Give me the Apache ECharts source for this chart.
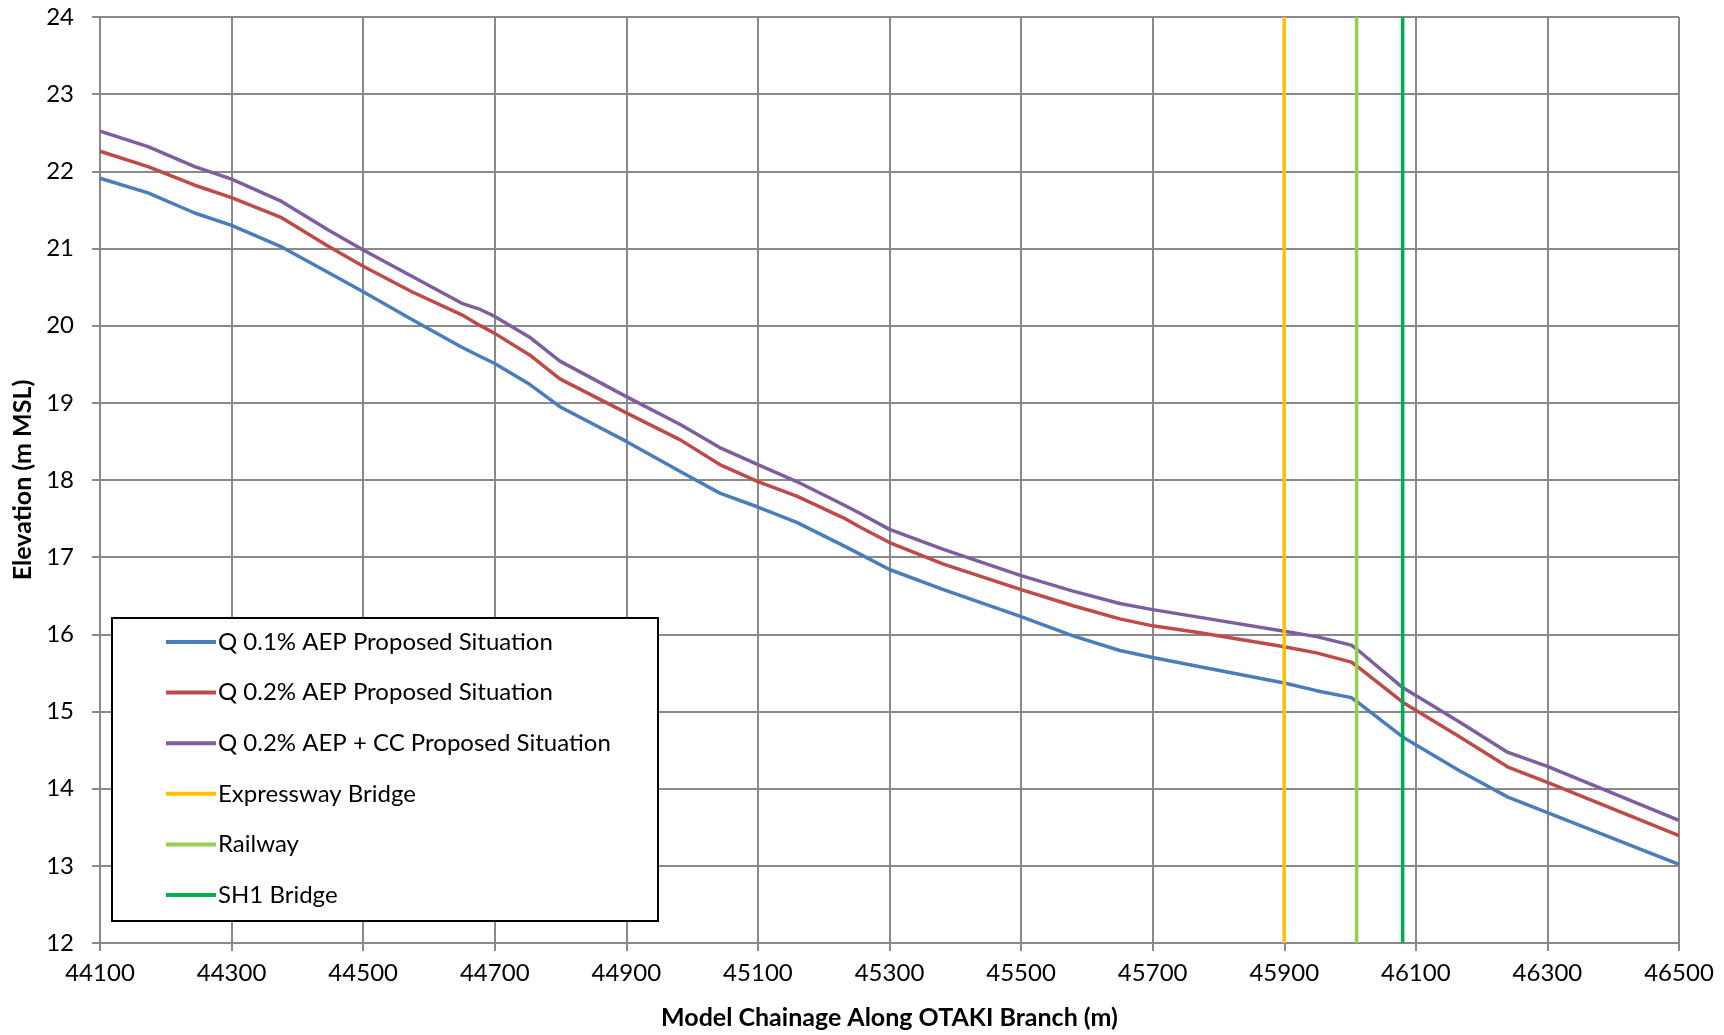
<!DOCTYPE html>
<html>
<head>
<meta charset="utf-8">
<script src="https://cdn.jsdelivr.net/npm/echarts@6/dist/echarts.min.js"></script>
<style>
  html, body { margin: 0; padding: 0; background: #fff; }
  #chart { width: 1724px; height: 1035px; }
</style>
</head>
<body>
<div id="chart"></div>
<script>
// ---- data ----
const chainage = [44100, 44173, 44244, 44300, 44376, 44447, 44500, 44574, 44650, 44678, 44700, 44753, 44799, 44900, 44982, 45042, 45100, 45159, 45230, 45255, 45300, 45382, 45500, 45579, 45650, 45700, 45772, 45900, 45949, 46002, 46010, 46080, 46167, 46240, 46300, 46500];
const q01 = [21.91, 21.72, 21.46, 21.30, 21.02, 20.69, 20.44, 20.08, 19.72, 19.60, 19.51, 19.24, 18.95, 18.50, 18.11, 17.83, 17.65, 17.45, 17.15, 17.04, 16.84, 16.58, 16.23, 15.98, 15.79, 15.70, 15.58, 15.37, 15.27, 15.18, 15.13, 14.67, 14.23, 13.89, 13.69, 13.02];
const q02 = [22.26, 22.06, 21.82, 21.66, 21.40, 21.03, 20.77, 20.44, 20.14, 20.00, 19.90, 19.62, 19.31, 18.87, 18.52, 18.20, 17.98, 17.79, 17.51, 17.39, 17.19, 16.91, 16.58, 16.37, 16.20, 16.11, 16.02, 15.84, 15.76, 15.64, 15.59, 15.12, 14.67, 14.28, 14.08, 13.39];
const q02cc = [22.52, 22.32, 22.06, 21.90, 21.61, 21.24, 20.98, 20.64, 20.29, 20.21, 20.12, 19.85, 19.54, 19.08, 18.72, 18.42, 18.20, 17.98, 17.68, 17.57, 17.36, 17.10, 16.76, 16.56, 16.40, 16.32, 16.22, 16.04, 15.97, 15.86, 15.81, 15.31, 14.86, 14.47, 14.29, 13.59];
const structureNames = ['Expressway Bridge', 'Railway', 'SH1 Bridge'];
const structureChainage = [45900, 46010, 46080];
const seriesNames = ['Q 0.1% AEP Proposed Situation', 'Q 0.2% AEP Proposed Situation', 'Q 0.2% AEP + CC Proposed Situation'];
const xTicks = [44100, 44300, 44500, 44700, 44900, 45100, 45300, 45500, 45700, 45900, 46100, 46300, 46500];
const yMin = 12, yMax = 24;

// ---- build ----
const FONT = 'Lato';
const lineColors = ['#4A7EBB', '#BE4B48', '#7D5FA0'];
const structColors = ['#FFC000', '#92D050', '#00B050'];
const pair = (ys) => chainage.map((x, i) => [x, ys[i]]);

const series = [q01, q02, q02cc].map((ys, i) => ({
  name: seriesNames[i],
  type: 'line',
  data: pair(ys),
  showSymbol: false,
  symbol: 'none',
  lineStyle: { width: 3.5, color: lineColors[i] },
  itemStyle: { color: lineColors[i] },
  silent: true,
  z: 3
}));
structureChainage.forEach((x, i) => {
  series.push({
    name: structureNames[i],
    type: 'line',
    data: [[x, yMin], [x, yMax]],
    showSymbol: false,
    symbol: 'none',
    lineStyle: { width: 3.5, color: structColors[i] },
    itemStyle: { color: structColors[i] },
    silent: true,
    z: 4
  });
});

const chart = echarts.init(document.getElementById('chart'), null, { renderer: 'canvas' });
const gridColor = '#898989';
chart.setOption({
  animation: false,
  backgroundColor: '#ffffff',
  textStyle: { fontFamily: FONT },
  grid: { left: 100, right: 45, top: 17, bottom: 91, containLabel: false },
  xAxis: {
    type: 'value',
    min: 44100,
    max: 46500,
    interval: 200,
    name: 'Model Chainage Along OTAKI Branch (m)',
    nameLocation: 'middle',
    nameGap: 62,
    nameTextStyle: { fontFamily: FONT, fontSize: 25, fontWeight: 'bold', color: '#000' },
    axisLine: { show: true, lineStyle: { color: gridColor, width: 2 } },
    axisTick: { show: true, inside: false, length: 8, lineStyle: { color: gridColor, width: 2 }, customValues: xTicks },
    axisLabel: { fontFamily: FONT, fontSize: 24, color: '#000', margin: 18, customValues: xTicks, formatter: v => String(v) },
    splitLine: { show: true, lineStyle: { color: gridColor, width: 2 } }
  },
  yAxis: {
    type: 'value',
    min: yMin,
    max: yMax,
    interval: 1,
    name: 'Elevation (m MSL)',
    nameLocation: 'middle',
    nameGap: 62,
    nameTextStyle: { fontFamily: FONT, fontSize: 25, fontWeight: 'bold', color: '#000' },
    axisLine: { show: true, lineStyle: { color: gridColor, width: 2 } },
    axisTick: { show: true, inside: false, length: 8, lineStyle: { color: gridColor, width: 2 } },
    axisLabel: { fontFamily: FONT, fontSize: 24, color: '#000', margin: 26 },
    splitLine: { show: true, lineStyle: { color: gridColor, width: 2 } }
  },
  legend: {
    orient: 'vertical',
    left: 161,
    top: 625,
    z: 100,
    itemWidth: 50,
    itemHeight: 4,
    itemGap: 26.6,
    icon: 'rect',
    selectedMode: false,
    textStyle: { fontFamily: FONT, fontSize: 24, color: '#000', lineHeight: 24, padding: [0, 0, 0, -3] },
    data: seriesNames.concat(structureNames)
  },
  graphic: [{
    type: 'rect',
    left: 111,
    top: 617,
    shape: { width: 546, height: 303 },
    style: { fill: '#fff', stroke: '#000', lineWidth: 2 },
    z: 50
  }],
  series: series
});
</script>
</body>
</html>
